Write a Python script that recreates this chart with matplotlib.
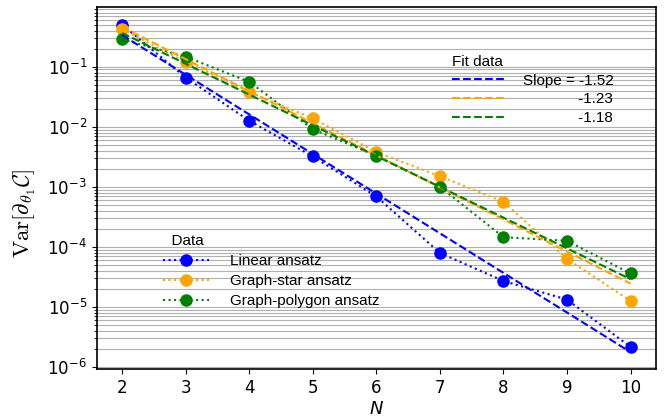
import numpy as np
import matplotlib.pyplot as plt

# variance of the first-parameter gradient vs number of qubits
n_qubits = [2, 3, 4, 5, 6, 7, 8, 9, 10]

var_linear = [0.50, 0.066, 0.0126, 0.0032, 6.9e-4, 7.9e-5, 2.7e-5, 1.32e-5, 2.15e-6]
var_star = [0.42, 0.12, 0.038, 0.0138, 0.0038, 1.5e-3, 5.6e-4, 6.3e-5, 1.26e-5]
var_polygon = [0.286, 0.147, 0.056, 0.0091, 0.0033, 1.0e-3, 1.45e-4, 1.26e-4, 3.6e-5]

# exponential fits: ln Var = intercept + slope * N
fit_slopes = [-1.52, -1.23, -1.18]
fit_intercepts = [1.95, 1.68, 1.35]

labels = ["Linear ansatz", "Graph-star ansatz", "Graph-polygon ansatz"]
colors = ["blue", "orange", "green"]

fig = plt.figure(figsize=(6.67, 4.18), dpi=100)
ax = fig.add_axes([0.145, 0.1165, 0.8385, 0.866])

N = np.array(n_qubits)
data_handles = []
for vals, lbl, c in zip([var_linear, var_star, var_polygon], labels, colors):
    h, = ax.plot(N, vals, ":", color=c, lw=1.5, marker="o", ms=8, label=lbl)
    data_handles.append(h)

fit_handles = []
for s, b, c in zip(fit_slopes, fit_intercepts, colors):
    h, = ax.plot(N, np.exp(b + s * N), "--", color=c, lw=1.5)
    fit_handles.append(h)

ax.set_yscale("log")
ax.set_ylim(10 ** -6.04, 10 ** -0.01)
ax.set_xlim(1.6, 10.4)
ax.set_xticks(n_qubits)
ax.grid(axis="y", which="both", color="#b0b0b0", lw=0.8)
ax.tick_params(labelsize=12)
for sp in ax.spines.values():
    sp.set_linewidth(1.2)

ax.set_xlabel("$N$", fontsize=13, labelpad=2)
ax.set_ylabel(r"$\mathrm{Var}[\partial_{\theta_1}\mathcal{C}]$", fontsize=16.5,
              math_fontfamily="cm")
ax.yaxis.set_label_coords(-0.105, 0.43)

leg_font = {"family": "Liberation Sans", "size": 11}

fit_labels = [f"Slope = {fit_slopes[0]:.2f}"] + \
             [" " * 13 + f"{s:.2f}" for s in fit_slopes[1:]]
leg_fit = ax.legend(fit_handles, fit_labels, title="Fit data", prop=leg_font,
                    title_fontproperties=leg_font, alignment="left",
                    frameon=False, loc="upper left", bbox_to_anchor=(0.635, 0.868),
                    borderpad=0, borderaxespad=0, handlelength=3.5,
                    handletextpad=1.15, labelspacing=0.3)
ax.add_artist(leg_fit)

ax.legend(data_handles, labels, title="  Data", prop=leg_font,
          title_fontproperties=leg_font, alignment="left",
          frameon=False, loc="upper left", bbox_to_anchor=(0.1185, 0.374),
          borderpad=0, borderaxespad=0, handlelength=3.0,
          handletextpad=1.4, labelspacing=0.4)

fig.savefig("out.png", dpi=100)
